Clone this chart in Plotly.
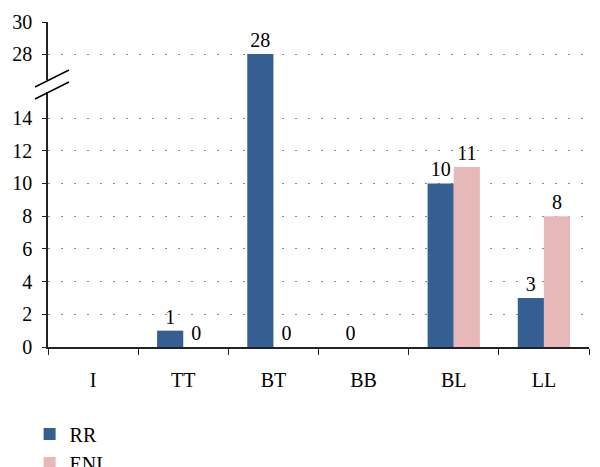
import plotly.graph_objects as go

categories = ["I", "TT", "BT", "BB", "BL", "LL"]
rr_values = [None, 1, 28, 0, 10, 3]
enl_values = [None, 0, 0, None, 11, 8]
series_names = ["RR", "ENL"]
lower_ticks = [0, 2, 4, 6, 8, 10, 12, 14]
upper_ticks = [28, 30]

colors = {"RR": "#355F93", "ENL": "#E6B8B7"}
FONT = "Liberation Serif"
FS = 20

# page body adds an 8px offset; layout given in screenshot pixels
OFF = 8
LEFT, RIGHT = 48, 589
TOP, BOTTOM, BREAK = 22, 347, 86
H = BOTTOM - TOP
W = RIGHT - LEFT
lower_scale = (BOTTOM - 118) / 14.0
upper_scale = (54 - 22) / 2.0
OVER = 1.5
LOWER_MAX = (BOTTOM - BREAK + OVER) / lower_scale
UPPER_MIN = 28 - (BREAK - 54) / upper_scale
split_lo = (BOTTOM - BREAK + OVER) / H
split_up = (BOTTOM - BREAK) / H

fig = go.Figure()

def txt(vals, lo, hi):
    return ["" if v is None or v < lo or v > hi else str(v) for v in vals]

for name, vals in zip(series_names, (rr_values, enl_values)):
    fig.add_trace(go.Bar(
        x=categories, y=vals, name=name, marker_color=colors[name],
        marker_line_width=0,
        text=txt(vals, 0, 15), textposition="outside", cliponaxis=False,
        textfont=dict(family=FONT, size=FS, color="black"),
        xaxis="x", yaxis="y", showlegend=True))
for name, vals in zip(series_names, (rr_values, enl_values)):
    fig.add_trace(go.Bar(
        x=categories, y=vals, name=name, marker_color=colors[name],
        marker_line_width=0,
        text=txt(vals, UPPER_MIN, 1000), textposition="outside", cliponaxis=False,
        textfont=dict(family=FONT, size=FS, color="black"),
        xaxis="x", yaxis="y2", showlegend=False))

grid = dict(showgrid=True, gridcolor="#8a8a8a", griddash="2px,11px", gridwidth=1)
yax = dict(showline=True, linecolor="#222", linewidth=1.5, ticks="outside",
           ticklen=4, tickcolor="#222", zeroline=False, ticklabelstandoff=6,
           tickfont=dict(family=FONT, size=FS, color="black"), **grid)

fig.update_layout(
    width=600, height=467,
    margin=dict(l=LEFT - OFF, r=600 - (RIGHT - OFF), t=TOP - OFF,
                b=467 - (BOTTOM - OFF), autoexpand=False),
    paper_bgcolor="white", plot_bgcolor="white",
    barmode="group", bargap=0.42, bargroupgap=0,
    font=dict(family=FONT, size=FS, color="black"),
    xaxis=dict(type="category", showline=True, linecolor="#222", linewidth=1.5,
               ticks="outside", tickson="boundaries", ticklen=6, tickcolor="#222",
               tickfont=dict(family=FONT, size=FS, color="black"),
               ticklabelstandoff=14,
               showgrid=False, anchor="y", range=[-0.5, 5.5]),
    yaxis=dict(domain=[0, split_lo], range=[0, LOWER_MAX], tickvals=lower_ticks,
               anchor="x", **yax),
    yaxis2=dict(domain=[split_up, 1], range=[UPPER_MIN, 30], tickvals=upper_ticks,
                anchor="x", **yax),
    legend=dict(x=-0.034, y=-0.208, xanchor="left", yanchor="top",
                orientation="v", font=dict(family=FONT, size=FS, color="black"),
                bgcolor="rgba(0,0,0,0)", itemwidth=30),
)

def px_to_paper(px, py):
    return (px - LEFT) / W, (BOTTOM - py) / H

x0, y0 = px_to_paper(LEFT, 92)
x1, y1 = px_to_paper(LEFT, 80)
fig.add_shape(type="line", xref="paper", yref="paper", x0=x0, y0=y0, x1=x1, y1=y1,
              line=dict(color="white", width=4))
for (ax, ay, bx, by) in ((35, 87, 69, 70), (35, 99, 69, 82)):
    a = px_to_paper(ax, ay)
    b = px_to_paper(bx, by)
    fig.add_shape(type="line", xref="paper", yref="paper", x0=a[0], y0=a[1],
                  x1=b[0], y1=b[1], line=dict(color="black", width=1.5))

fig.write_html("out.html")
